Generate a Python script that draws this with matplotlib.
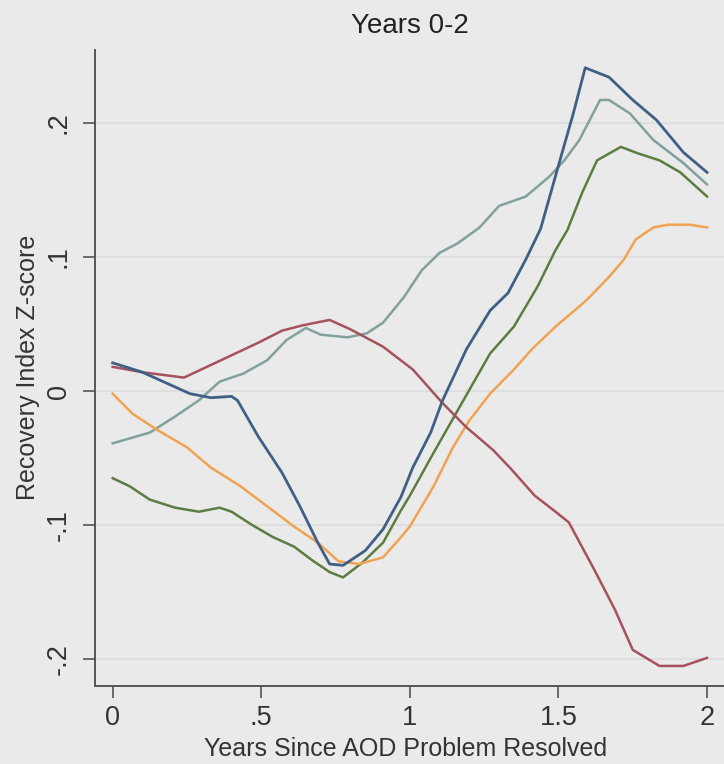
import matplotlib.pyplot as plt

plt.rcParams["font.family"] = ["Liberation Sans", "DejaVu Sans"]

# series (years since resolved, z-score)
blue_x = [0.0, 0.10, 0.18, 0.26, 0.33, 0.40, 0.42, 0.49, 0.57, 0.63, 0.69, 0.73, 0.775,
          0.85, 0.91, 0.97, 1.01, 1.07, 1.11, 1.19, 1.27, 1.33, 1.39, 1.44, 1.505, 1.55,
          1.59, 1.67, 1.75, 1.83, 1.92, 2.0]
blue_y = [0.021, 0.014, 0.006, -0.002, -0.005, -0.004, -0.007, -0.034, -0.061, -0.086,
          -0.113, -0.129, -0.130, -0.119, -0.103, -0.079, -0.057, -0.031, -0.007, 0.031,
          0.060, 0.073, 0.098, 0.121, 0.172, 0.207, 0.241, 0.234, 0.217, 0.202, 0.178, 0.163]

teal_x = [0.0, 0.125, 0.21, 0.29, 0.36, 0.44, 0.52, 0.585, 0.65, 0.70, 0.79, 0.855, 0.91,
          0.98, 1.04, 1.10, 1.16, 1.235, 1.30, 1.39, 1.47, 1.52, 1.57, 1.64, 1.67, 1.74,
          1.82, 1.92, 2.0]
teal_y = [-0.039, -0.031, -0.019, -0.007, 0.007, 0.013, 0.023, 0.038, 0.047, 0.042, 0.040,
          0.043, 0.051, 0.070, 0.090, 0.103, 0.110, 0.122, 0.138, 0.145, 0.160, 0.172,
          0.187, 0.217, 0.217, 0.207, 0.187, 0.170, 0.154]

green_x = [0.0, 0.057, 0.125, 0.21, 0.29, 0.36, 0.40, 0.47, 0.54, 0.61, 0.67, 0.73, 0.775,
           0.84, 0.91, 0.97, 1.0, 1.08, 1.18, 1.27, 1.35, 1.43, 1.49, 1.53, 1.58, 1.63,
           1.71, 1.77, 1.84, 1.91, 2.0]
green_y = [-0.065, -0.071, -0.081, -0.087, -0.090, -0.087, -0.090, -0.100, -0.109, -0.116,
           -0.126, -0.135, -0.139, -0.128, -0.113, -0.089, -0.078, -0.046, -0.007, 0.028,
           0.048, 0.078, 0.105, 0.120, 0.148, 0.172, 0.182, 0.177, 0.172, 0.163, 0.145]

orange_x = [0.0, 0.067, 0.15, 0.25, 0.33, 0.43, 0.52, 0.61, 0.69, 0.76, 0.83, 0.91, 0.97,
            1.0, 1.08, 1.145, 1.20, 1.27, 1.35, 1.41, 1.49, 1.57, 1.60, 1.67, 1.72, 1.76,
            1.82, 1.87, 1.94, 2.0]
orange_y = [-0.002, -0.017, -0.029, -0.042, -0.057, -0.071, -0.086, -0.101, -0.113, -0.127,
            -0.129, -0.124, -0.109, -0.101, -0.071, -0.042, -0.022, -0.002, 0.016, 0.031,
            0.048, 0.063, 0.069, 0.085, 0.098, 0.113, 0.122, 0.124, 0.124, 0.122]

red_x = [0.0, 0.10, 0.24, 0.49, 0.57, 0.64, 0.73, 0.80, 0.91, 1.01, 1.11, 1.19, 1.28, 1.34,
         1.42, 1.49, 1.535, 1.62, 1.69, 1.75, 1.84, 1.92, 2.0]
red_y = [0.018, 0.014, 0.010, 0.036, 0.045, 0.049, 0.053, 0.046, 0.033, 0.016, -0.009,
         -0.027, -0.044, -0.058, -0.078, -0.090, -0.098, -0.133, -0.163, -0.193, -0.205,
         -0.205, -0.199]

x_ticks = [0, 0.5, 1, 1.5, 2]
x_labels = ["0", ".5", "1", "1.5", "2"]
y_ticks = [-0.2, -0.1, 0, 0.1, 0.2]
y_labels = ["-.2", "-.1", "0", ".1", ".2"]

bg = "#eaeaea"
fig = plt.figure(figsize=(7.24, 7.64), dpi=100, facecolor=bg)
ax = fig.add_axes([0.131, 0.102, 0.869, 0.833], facecolor=bg)

ax.plot(teal_x, teal_y, color="#82a09d", lw=1.8)
ax.plot(green_x, green_y, color="#5c7d42", lw=1.8)
ax.plot(orange_x, orange_y, color="#f0a352", lw=1.8)
ax.plot(red_x, red_y, color="#a5525c", lw=1.8)
ax.plot(blue_x, blue_y, color="#3f5f85", lw=2.0)

ax.set_xlim(-0.06, 2.057)
ax.set_ylim(-0.220, 0.2545)

ax.set_xticks(x_ticks)
ax.set_xticklabels(x_labels)
ax.set_yticks(y_ticks)
ax.set_yticklabels(y_labels, rotation=90, va="center")

ax.grid(axis="y", color="#dcdcdc", lw=1.2)
ax.set_axisbelow(True)
for side in ["top", "right"]:
    ax.spines[side].set_visible(False)
for side in ["left", "bottom"]:
    ax.spines[side].set_color("#555555")
    ax.spines[side].set_linewidth(1.4)

ax.tick_params(axis="both", direction="out", length=8.5, width=1.2, color="#555555",
               labelsize=19.5, labelcolor="#333333")
ax.tick_params(axis="x", pad=5)
ax.tick_params(axis="y", pad=8)

ax.set_title("Years 0-2", fontsize=20, color="#222222", pad=12)
ax.set_ylabel("Recovery Index Z-score", fontsize=18, color="#333333", labelpad=4)
# x label sits tight under the tick labels, as in the reference
fig.text(0.56, 0.019, "Years Since AOD Problem Resolved", fontsize=18,
         color="#333333", ha="center", va="center")

fig.savefig("out.png", dpi=100, facecolor=bg)
